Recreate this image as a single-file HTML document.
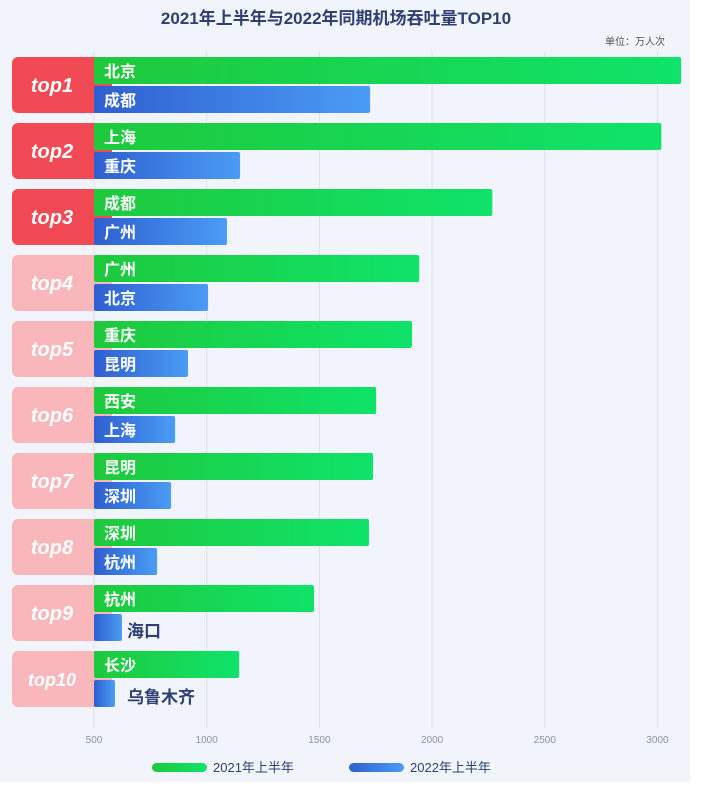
<!DOCTYPE html>
<html><head><meta charset="utf-8"><style>
body{margin:0;width:724px;height:790px;background:#fff;overflow:hidden;font-family:"Liberation Sans","Noto Sans CJK SC",sans-serif}
#bg{position:absolute;left:0;top:0;width:690px;height:782px;background:#f1f4fa}
</style></head><body>
<div id="bg"></div>
<svg id="c" width="724" height="790" style="position:absolute;left:0;top:0">
<defs>
<linearGradient id="gg" x1="0" x2="1"><stop offset="0" stop-color="#1ec93c"/><stop offset="1" stop-color="#0fe36a"/></linearGradient>
<linearGradient id="bg2" x1="0" x2="1"><stop offset="0" stop-color="#2f5fd0"/><stop offset="1" stop-color="#4a9cf5"/></linearGradient>
</defs>
<text x="336" y="24" text-anchor="middle" font-size="17" font-weight="bold" fill="#2e3f73">2021年上半年与2022年同期机场吞吐量TOP10</text>
<text x="665" y="45" text-anchor="end" font-size="10" fill="#555">单位：万人次</text>
</svg>
<script>
const ranks=["top1","top2","top3","top4","top5","top6","top7","top8","top9","top10"];
const cities2021=["北京","上海","成都","广州","重庆","西安","昆明","深圳","杭州","长沙"];
const values2021=[3105,3017,2267,1943,1911,1752,1738,1720,1476,1144];
const cities2022=["成都","重庆","广州","北京","昆明","上海","深圳","杭州","海口","乌鲁木齐"];
const values2022=[1725,1148,1090,1006,917,860,842,780,624,593];
const ticks=[500,1000,1500,2000,2500,3000];
const svg=document.getElementById('c');const NS="http://www.w3.org/2000/svg";
function x(v){return 94+(v-500)*0.2254;}
function rowY(i){return 57+i*66;}
function mk(t,a,p){const e=document.createElementNS(NS,t);for(const k in a)e.setAttribute(k,a[k]);(p||svg).appendChild(e);return e;}
ticks.forEach(t=>{
 const l=mk('line',{x1:x(t),x2:x(t),y1:52,y2:728,stroke:'#dde1ea','stroke-width':1});
 
 
 const tx=mk('text',{x:x(t),y:743,'text-anchor':'middle','font-size':10,fill:'#8a93a8'});tx.textContent=t;
 
 
});
ranks.forEach((r,i)=>{
 const y=rowY(i);const top3=i<3;
 const b=mk('rect',{x:12,y:y,width:100,height:56,rx:6,fill:top3?'#f24a54':'#f9b7bc'});
 
 
 const t=mk('text',{x:52,y:y+35,'text-anchor':'middle','font-size':i==9?18:20,'font-weight':'bold','font-style':'italic',fill:'#fff'});t.textContent=r;
 
 
 const g=mk('rect',{x:94,y:y,width:x(values2021[i])-94,height:27,rx:2,fill:'url(#gg)'});
 
 
 const bb=mk('rect',{x:94,y:y+29,width:x(values2022[i])-94,height:27,rx:2,fill:'url(#bg2)'});
 
 
 const gt=mk('text',{x:104,y:y+20,'font-size':16,'font-weight':'bold',fill:'#fff'});gt.textContent=cities2021[i];
 
 
 const inside=x(values2022[i])-94>60;
 const bt=mk('text',{x:inside?104:127,y:y+(inside?49:52),'font-size':inside?16:17,'font-weight':'bold',fill:inside?'#fff':'#2e3f73'});bt.textContent=cities2022[i];
 
 
});
[[152,'url(#gg)','2021年上半年'],[349,'url(#bg2)','2022年上半年']].forEach(([lx,f,s])=>{
 const r=mk('rect',{x:lx,y:763,width:55,height:9,rx:4.5,fill:f});
 
 
 const t=mk('text',{x:lx+61,y:772,'font-size':13,fill:'#2e3f73'});t.textContent=s;
 
 
});
</script>
</body></html>
